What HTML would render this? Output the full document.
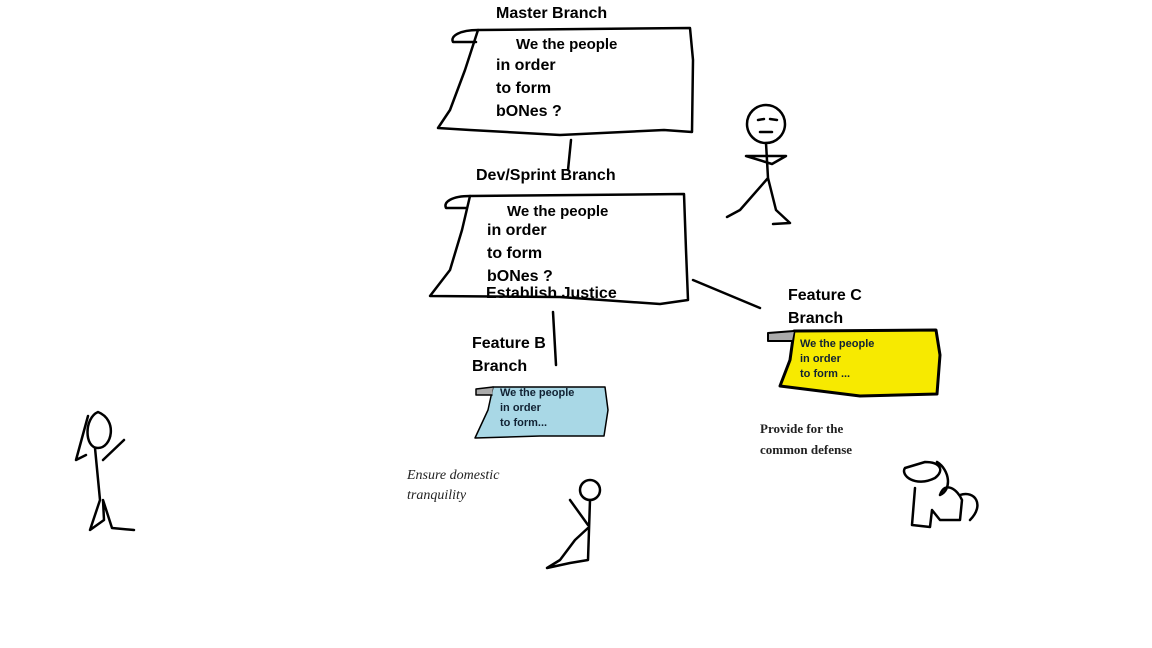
<!DOCTYPE html>
<html><head><style>
html,body{margin:0;padding:0;background:#fff;}
body{width:1152px;height:648px;position:relative;overflow:hidden;font-family:"Liberation Sans",sans-serif;}
.t{position:absolute;font-weight:bold;color:#000;white-space:nowrap;}
.s{position:absolute;color:#222;font-family:"Liberation Serif",serif;font-style:italic;font-size:14px;line-height:20px;}
</style></head><body>
<svg width="1152" height="648" style="position:absolute;left:0;top:0" fill="none" stroke="#000" stroke-width="2.5" stroke-linecap="round" stroke-linejoin="round">
<path d="M478,30 L690,28 L693,60 L692,132 L664,130 L560,135 L470,130 L438,128 L450,110 L465,70 L478,30 Z"/>
<path d="M478,30 C460,30 450,36 453,42 L476,42"/>
<line x1="571" y1="140" x2="568" y2="170"/>
<path d="M470,196 L684,194 L686,250 L688,300 L660,304 L560,297 L430,296 L450,270 L462,230 L470,196 Z"/>
<path d="M470,196 C452,196 443,202 446,208 L466,208"/>
<line x1="693" y1="280" x2="760" y2="308"/>
<line x1="553" y1="312" x2="556" y2="365"/>
<path d="M493,387 L605,387 L608,410 L604,436 L540,436 L475,438 L488,410 Z" fill="#a9d8e6" stroke-width="1.5"/>
<path d="M493,387 L476,389 L476,395 L492,395" fill="#aaa" stroke-width="1.5"/>
<path d="M794,331 L936,330 L940,355 L937,394 L860,396 L780,386 L790,360 Z" fill="#f7ea00" stroke-width="3"/>
<path d="M794,331 L768,333 L768,341 L792,341" fill="#aaa" stroke-width="2"/>
<circle cx="766" cy="124" r="19"/>
<path d="M758,120 l6,-1 M770,119 l7,1 M760,132 l12,0"/>
<path d="M766,143 L768,178 L740,210 L727,217 M768,178 L776,210 L790,223 L773,224 M746,156 L786,156 L772,164 Z"/>
<path d="M98,412 C84,418 84,448 98,448 C112,448 118,420 98,412 Z M88,416 L76,460 L86,455 M95,448 L100,500 L90,530 L104,520 L103,500 L112,528 L134,530 M103,460 L124,440"/>
<circle cx="590" cy="490" r="10"/>
<path d="M590,500 L588,560 L570,563 L547,568 L560,560 L575,540 L588,528 M588,525 L570,500"/>
<path d="M905,468 C900,475 915,488 935,478 C945,470 940,462 925,462 Z M937,462 C950,470 952,490 940,495 M915,488 L912,525 L930,527 L932,510 L940,520 L960,520 L962,500 C958,490 945,480 940,495 M960,495 C975,490 985,505 970,520"/>
</svg>
<div class="t" style="left:496px;top:5px;font-size:16px">Master Branch</div>
<div class="t" style="left:516px;top:36px;font-size:15px">We the people</div>
<div class="t" style="left:496px;top:54px;font-size:16px;line-height:23px">in order<br>to form<br>bONes ?</div>
<div class="t" style="left:476px;top:167px;font-size:16px">Dev/Sprint Branch</div>
<div class="t" style="left:507px;top:203px;font-size:15px">We the people</div>
<div class="t" style="left:487px;top:219px;font-size:16px;line-height:23px">in order<br>to form<br>bONes ?</div>
<div class="t" style="left:486px;top:285px;font-size:16px">Establish Justice</div>
<div class="t" style="left:472px;top:332px;font-size:16px;line-height:23px">Feature B<br>Branch</div>
<div class="t" style="left:500px;top:386px;font-size:11px;line-height:15px;color:#123">We the people<br>in order<br>to form...</div>
<div class="t" style="left:788px;top:284px;font-size:16px;line-height:23px">Feature C<br>Branch</div>
<div class="t" style="left:800px;top:337px;font-size:11px;line-height:15px;color:#123">We the people<br>in order<br>to form ...</div>
<div class="s" style="left:407px;top:466px">Ensure domestic<br>tranquility</div>
<div class="s" style="left:760px;top:418px;font-style:normal;font-weight:bold;font-size:13px;line-height:21px">Provide for the<br>common defense</div>
</body></html>
